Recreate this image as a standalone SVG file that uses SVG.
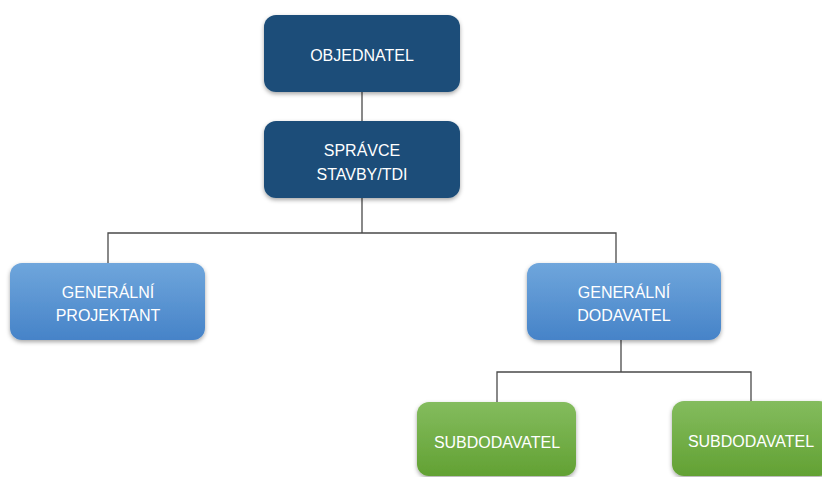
<svg xmlns="http://www.w3.org/2000/svg" width="822" height="477" viewBox="0 0 822 477">
  <defs>
    <linearGradient id="gBlue" x1="0" y1="0" x2="0" y2="1">
      <stop offset="0" stop-color="#6fa6dc"/>
      <stop offset="1" stop-color="#4683c8"/>
    </linearGradient>
    <linearGradient id="gGreen" x1="0" y1="0" x2="0" y2="1">
      <stop offset="0" stop-color="#84bc5e"/>
      <stop offset="1" stop-color="#62a133"/>
    </linearGradient>
    <filter id="shadow" x="-10%" y="-10%" width="120%" height="130%">
      <feDropShadow dx="0" dy="2" stdDeviation="2" flood-color="#000" flood-opacity="0.35"/>
    </filter>
  </defs>
  <style>
    .box { filter: url(#shadow); }
    .dark { fill: #1f4e79; }
    .light { fill: url(#gBlue); }
    .green { fill: url(#gGreen); }
    .lbl { font-family: "Liberation Sans", "Open Sans", sans-serif; font-size: 16px; fill: #ffffff; text-anchor: middle; }
    .conn { fill: none; stroke: #4a4a4a; stroke-width: 1.3; }
  </style>
  <rect width="822" height="477" fill="#ffffff"/>

  <g id="connectors">
    <path class="conn" d="M362,92 V121"/>
    <path class="conn" d="M362,198 V233 M108,263 V233 H616 V263"/>
    <path class="conn" d="M621,340 V372 M497,402 V372 H751 V401"/>
  </g>

  <g id="objednatel">
    <rect class="box dark" x="264" y="15" width="196" height="77" rx="12"/>
    <text class="lbl" x="362" y="61">OBJEDNATEL</text>
  </g>

  <g id="spravce">
    <rect class="box dark" x="264" y="121" width="196" height="77" rx="12"/>
    <text class="lbl" x="362" y="156">SPRÁVCE</text>
    <text class="lbl" x="362" y="180">STAVBY/TDI</text>
  </g>

  <g id="projektant">
    <rect class="box light" x="10" y="263" width="195" height="77" rx="12"/>
    <text class="lbl" x="108" y="298">GENERÁLNÍ</text>
    <text class="lbl" x="108" y="321">PROJEKTANT</text>
  </g>

  <g id="dodavatel">
    <rect class="box light" x="527" y="263" width="194" height="77" rx="12"/>
    <text class="lbl" x="624" y="298">GENERÁLNÍ</text>
    <text class="lbl" x="624" y="321">DODAVATEL</text>
  </g>

  <g id="subdodavatel1">
    <rect class="box green" x="417" y="402" width="159" height="74" rx="12"/>
    <text class="lbl" x="497" y="448">SUBDODAVATEL</text>
  </g>

  <g id="subdodavatel2">
    <rect class="box green" x="672" y="401" width="159" height="75" rx="12"/>
    <text class="lbl" x="751" y="447">SUBDODAVATEL</text>
  </g>
</svg>
